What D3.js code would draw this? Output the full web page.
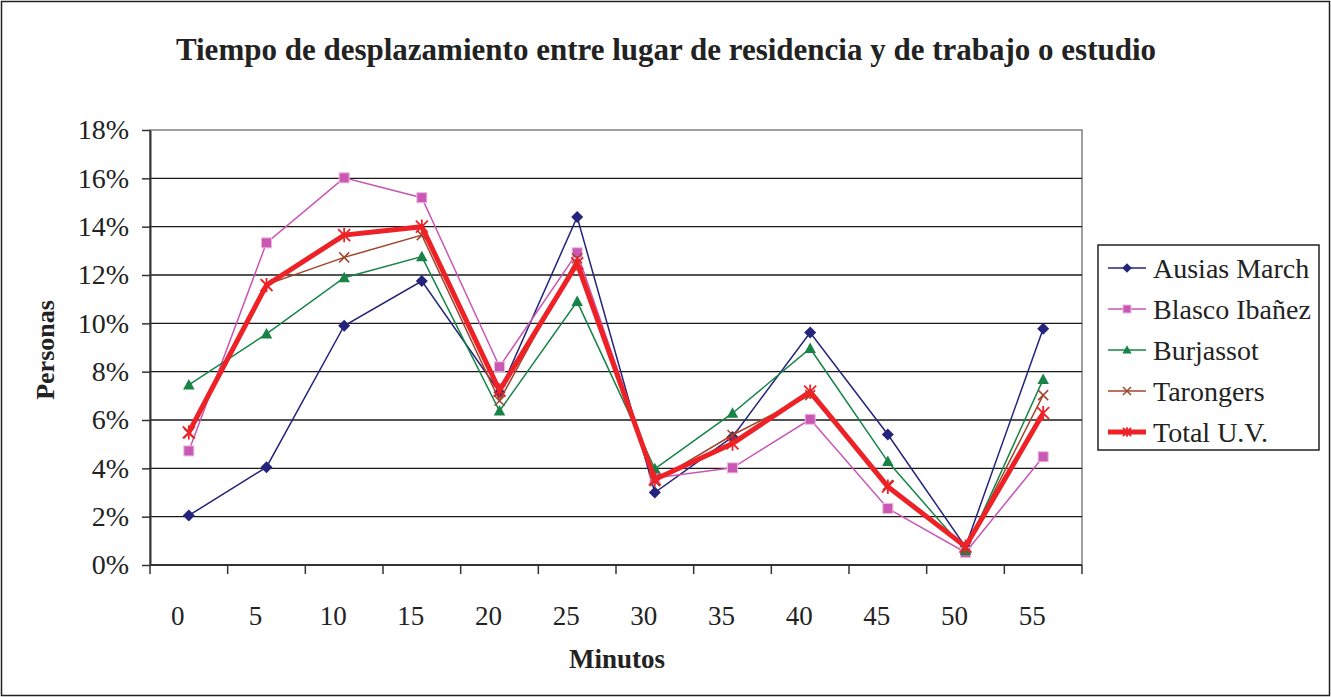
<!DOCTYPE html>
<html>
<head>
<meta charset="utf-8">
<script src="https://cdn.jsdelivr.net/npm/d3@7"></script>
<style>
  html, body { margin: 0; padding: 0; background: #fff; }
  svg { display: block; font-family: "Liberation Serif", "Times New Roman", serif; }
</style>
</head>
<body>
<div id="chart"></div>
<script>
// chart data (percent of people per travel-time bucket)
var minutos = ['0','5','10','15','20','25','30','35','40','45','50','55'];
var ausiasMarch   = [2.05, 4.05, 9.9, 11.75, 7.15, 14.4, 3.0, 5.3, 9.62, 5.4, 0.75, 9.78];
var blascoIbanez  = [4.72, 13.33, 16.02, 15.2, 8.2, 12.92, 3.6, 4.02, 6.03, 2.34, 0.52, 4.48];
var burjassot     = [7.45, 9.56, 11.89, 12.76, 6.37, 10.9, 3.98, 6.28, 8.96, 4.28, 0.6, 7.68];
var tarongers     = [5.45, 11.6, 12.73, 13.65, 6.8, 12.69, 3.47, 5.38, 7.03, 3.31, 0.7, 7.03];
var totalUV       = [5.49, 11.58, 13.65, 14.0, 7.22, 12.48, 3.54, 5.03, 7.17, 3.24, 0.76, 6.28];
var yTicks = [0, 2, 4, 6, 8, 10, 12, 14, 16, 18];

var series = [
    {name:'Ausias March',   values:ausiasMarch,  color:'#24247c', width:1.5, marker:'diamond'},
    {name:'Blasco Ibañez',  values:blascoIbanez, color:'#c957b3', width:1.5, marker:'square'},
    {name:'Burjassot',      values:burjassot,    color:'#178446', width:1.5, marker:'triangle'},
    {name:'Tarongers',      values:tarongers,    color:'#a2442b', width:1.5, marker:'x'},
    {name:'Total U.V.',     values:totalUV,      color:'#ee2226', width:5,   marker:'star'}
];

var W = 1331, H = 697;
var plotL = 150, plotR = 1082, plotT = 130, plotB = 565;

var svg = d3.select('#chart').append('svg').attr('width', W).attr('height', H);

// outer frame
svg.append('rect').attr('x',1.5).attr('y',1.5).attr('width',W-3).attr('height',H-3)
    .attr('fill','#fff').attr('stroke','#222').attr('stroke-width',1.5);

var x = d3.scaleBand().domain(minutos).range([plotL, plotR]).padding(0);
var y = d3.scaleLinear().domain([0, 18]).range([plotB, plotT]);
function cx(i){ return x(minutos[i]) + x.bandwidth()/2; }

// plot area border
svg.append('rect').attr('x',plotL).attr('y',plotT).attr('width',plotR-plotL).attr('height',plotB-plotT)
    .attr('fill','none').attr('stroke','#808080').attr('stroke-width',1.5);

// gridlines
svg.append('g').selectAll('line').data(yTicks.filter(function(d){ return d>0 && d<18; })).join('line')
    .attr('x1',plotL).attr('x2',plotR)
    .attr('y1',function(d){ return y(d); }).attr('y2',function(d){ return y(d); })
    .attr('stroke','#1a1a1a').attr('stroke-width',1.3);

// y axis
var yAxis = d3.axisLeft(y).tickValues(yTicks).tickSize(8).tickSizeOuter(0)
    .tickFormat(function(d){ return d + '%'; });
var gy = svg.append('g').attr('transform','translate('+plotL+',0)').call(yAxis);
gy.select('.domain').attr('stroke','#333').attr('stroke-width',2);
gy.selectAll('.tick line').attr('stroke','#333').attr('stroke-width',1.5);
gy.selectAll('.tick text').attr('x',-21).attr('font-size','28px').attr('fill','#222')
    .attr('font-family','"Liberation Serif", serif');

// x axis: ticks between categories, labels below
var gx = svg.append('g').attr('transform','translate(0,'+plotB+')');
gx.append('line').attr('x1',plotL).attr('x2',plotR).attr('stroke','#333').attr('stroke-width',2);
gx.selectAll('line.tk').data(minutos.concat(['end'])).join('line').attr('class','tk')
    .attr('x1',function(d){ return d==='end' ? plotR : x(d); })
    .attr('x2',function(d){ return d==='end' ? plotR : x(d); })
    .attr('y1',0).attr('y2',9).attr('stroke','#333').attr('stroke-width',1.5);
var xAxis = d3.axisBottom(x).tickSize(0).tickSizeOuter(0);
var gxl = svg.append('g').attr('transform','translate(-11,'+(plotB+38)+')').call(xAxis);
gxl.select('.domain').remove();
gxl.selectAll('.tick text').attr('font-size','27px').attr('fill','#222')
    .attr('font-family','"Liberation Serif", serif');

// marker shapes
function drawMarker(sel, type, color, s){
    if(type==='diamond'){
        sel.append('path').attr('d','M0,'+(-s*1.2)+'L'+(s*1.2)+',0L0,'+(s*1.2)+'L'+(-s*1.2)+',0Z').attr('fill',color);
    } else if(type==='square'){
        sel.append('rect').attr('x',-s).attr('y',-s).attr('width',2*s).attr('height',2*s)
            .attr('fill',color).attr('stroke','#e9b9df').attr('stroke-width',1);
    } else if(type==='triangle'){
        sel.append('path').attr('d','M0,'+(-s*1.2)+'L'+(s*1.15)+','+(s*0.9)+'L'+(-s*1.15)+','+(s*0.9)+'Z').attr('fill',color);
    } else if(type==='x'){
        sel.append('path').attr('d','M'+(-s)+','+(-s)+'L'+s+','+s+'M'+s+','+(-s)+'L'+(-s)+','+s)
            .attr('stroke',color).attr('stroke-width',1.5).attr('fill','none');
    } else {
        sel.append('path').attr('d','M'+(-s)+','+(-s)+'L'+s+','+s+'M'+s+','+(-s)+'L'+(-s)+','+s+'M0,'+(-s*1.2)+'L0,'+(s*1.2))
            .attr('stroke',color).attr('stroke-width',1.8).attr('fill','none');
    }
}

var line = d3.line().x(function(d,i){ return cx(i); }).y(function(d){ return y(d); });

series.forEach(function(s){
    var g = svg.append('g');
    g.append('path').attr('d',line(s.values)).attr('fill','none')
        .attr('stroke',s.color).attr('stroke-width',s.width).attr('stroke-linejoin','miter');
    s.values.forEach(function(v,i){
        var m = g.append('g').attr('transform','translate('+cx(i)+','+y(v)+')');
        drawMarker(m, s.marker, s.color, s.marker==='star' ? 6 : 5);
    });
});

// title and axis titles
svg.append('text').attr('x',666).attr('y',60).attr('text-anchor','middle')
    .attr('font-size','31px').attr('font-weight','bold').attr('fill','#222')
    .text('Tiempo de desplazamiento entre lugar de residencia y de trabajo o estudio');
svg.append('text').attr('transform','translate(54,350) rotate(-90)').attr('text-anchor','middle')
    .attr('font-size','26px').attr('font-weight','bold').attr('fill','#222').text('Personas');
svg.append('text').attr('x',617).attr('y',668).attr('text-anchor','middle')
    .attr('font-size','27px').attr('font-weight','bold').attr('fill','#222').text('Minutos');

// legend
var lg = svg.append('g');
lg.append('rect').attr('x',1098).attr('y',245).attr('width',221).attr('height',205)
    .attr('fill','#fff').attr('stroke','#222').attr('stroke-width',1.5);
series.forEach(function(s,i){
    var yy = 268 + i*41;
    lg.append('line').attr('x1',1108).attr('x2',1146).attr('y1',yy).attr('y2',yy)
        .attr('stroke',s.color).attr('stroke-width',s.width);
    var m = lg.append('g').attr('transform','translate(1127,'+yy+')');
    drawMarker(m, s.marker, s.color, 4);
    lg.append('text').attr('x',1153).attr('y',yy).attr('dy','0.35em')
        .attr('font-size','28px').attr('fill','#222').text(s.name);
});
</script>
</body>
</html>
